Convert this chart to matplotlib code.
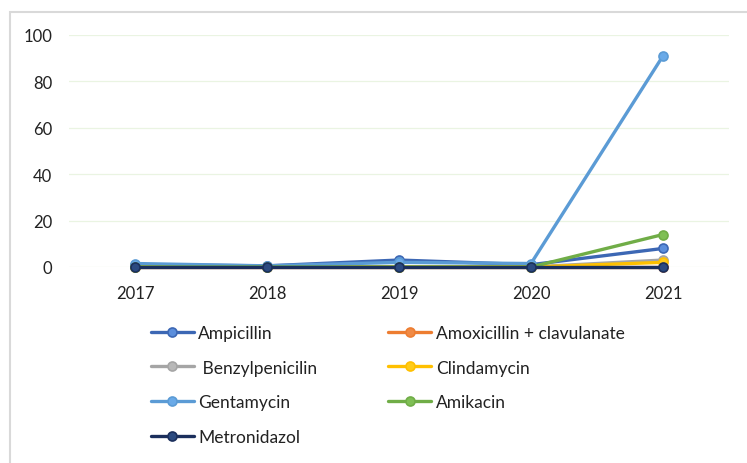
import matplotlib
matplotlib.use("Agg")
import matplotlib.pyplot as plt
from matplotlib.patches import Rectangle

plt.rcParams["font.family"] = ["Lato", "DejaVu Sans"]

years = ["2017", "2018", "2019", "2020", "2021"]
ampicillin = [1, 0.5, 3, 1, 8]
amoxicillin = [0, 0, 0, 0, 0]
benzylpenicilin = [0, 0, 0, 0, 3]
clindamycin = [0, 0, 0, 0, 2]
gentamycin = [1.5, 0.5, 2, 1.5, 91]
amikacin = [0, 0, 0, 0, 14]
metronidazol = [0, 0, 0, 0, 0]

series = [
    ("Ampicillin", ampicillin, "#3C67B4", "#5B8EDC"),
    ("Amoxicillin + clavulanate", amoxicillin, "#ED7D31", "#F08A45"),
    (" Benzylpenicilin", benzylpenicilin, "#A5A5A5", "#B8B8B8"),
    ("Clindamycin", clindamycin, "#FFC000", "#FFCC1A"),
    ("Gentamycin", gentamycin, "#5B9BD5", "#6AAAE8"),
    ("Amikacin", amikacin, "#70AD47", "#7FBF55"),
    ("Metronidazol", metronidazol, "#1B2F5C", "#2B4A80"),
]

fig = plt.figure(figsize=(7.47, 4.64), dpi=100)
ax = fig.add_axes([69 / 747, 196 / 464, 660 / 747, 232 / 464])

x = list(range(len(years)))
handles = {}
for name, vals, lc, mc in series:
    (h,) = ax.plot(x, vals, color=lc, lw=2.4, marker="o", markersize=6.5,
                   markerfacecolor=mc, markeredgecolor=lc, markeredgewidth=1.2,
                   clip_on=False, solid_capstyle="round")
    handles[name] = h

ax.set_xlim(-0.5, 4.5)
ax.set_ylim(0, 100)
ax.set_yticks([0, 20, 40, 60, 80, 100])
ax.set_xticks(x)
ax.set_xticklabels(years)
ax.tick_params(axis="both", length=0, labelsize=12, colors="#222222")
ax.tick_params(axis="y", pad=12)
ax.tick_params(axis="x", pad=13)
for s in ax.spines.values():
    s.set_visible(False)
ax.grid(axis="y", color="#EAF4E2", lw=0.9)
ax.set_axisbelow(True)

order = ["Ampicillin", " Benzylpenicilin", "Gentamycin", "Metronidazol",
         "Amoxicillin + clavulanate", "Clindamycin", "Amikacin"]
fig.legend([handles[n] for n in order], order, ncol=2, frameon=False,
           loc="upper left", bbox_to_anchor=(135 / 747, 1 - 310 / 464),
           fontsize=12.5, handlelength=2.5, handletextpad=0.25,
           labelspacing=1.09, columnspacing=4.06, labelcolor="#222222")

fig.patches.append(Rectangle((10 / 747, -0.2), 1.0, 0.2 + (464 - 13) / 464,
                             transform=fig.transFigure, fill=False,
                             edgecolor="#D9D9D9", lw=1.5))

fig.savefig("out.png", dpi=100, facecolor="white")
